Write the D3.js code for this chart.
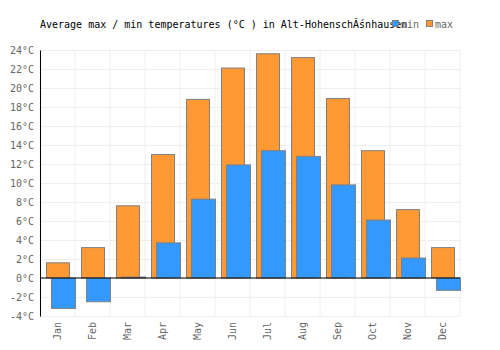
<!DOCTYPE html>
<html>
<head>
<meta charset="utf-8">
<script src="https://cdn.jsdelivr.net/npm/d3@7"></script>
<style>
  body { margin: 0; background: #fff; }
  text { font-family: "DejaVu Sans Mono", monospace; }
  .grid line { stroke: #eee; }
  .grid .domain { display: none; }
</style>
</head>
<body>
<svg id="chart"></svg>
<script>
// data
const months = ['Jan', 'Feb', 'Mar', 'Apr', 'May', 'Jun', 'Jul', 'Aug', 'Sep', 'Oct', 'Nov', 'Dec'];
const maxTemps = [1.6, 3.2, 7.6, 13.0, 18.8, 22.1, 23.6, 23.2, 18.9, 13.4, 7.2, 3.2];
const minTemps = [-3.2, -2.5, 0.1, 3.7, 8.3, 11.9, 13.4, 12.8, 9.8, 6.1, 2.1, -1.3];
const yTicks = [-4, -2, 0, 2, 4, 6, 8, 10, 12, 14, 16, 18, 20, 22, 24];
const titleText = 'Average max / min temperatures (°C ) in Alt-HohenschĂśnhausen';

const config = {
  containerWidth: 500,
  containerHeight: 350,
  margin: {top: 50, right: 40, bottom: 34, left: 40}
};

const width = config.containerWidth - config.margin.left - config.margin.right;
const height = config.containerHeight - config.margin.top - config.margin.bottom;

const svg = d3.select('#chart')
    .attr('width', config.containerWidth)
    .attr('height', config.containerHeight);

const chart = svg.append('g')
    .attr('transform', `translate(${config.margin.left},${config.margin.top})`);

// scales
const xScale = d3.scaleBand()
    .domain(months)
    .range([0, width]);

const yScale = d3.scaleLinear()
    .domain([-4, 24])
    .range([height, 0]);

// gridlines
chart.append('g')
    .attr('class', 'grid')
    .call(d3.axisLeft(yScale).tickValues(yTicks).tickSize(-width).tickFormat(''));

chart.append('g')
    .attr('class', 'grid')
    .selectAll('line')
    .data(d3.range(months.length + 1))
    .join('line')
      .attr('x1', i => i * xScale.bandwidth())
      .attr('x2', i => i * xScale.bandwidth())
      .attr('y1', 0)
      .attr('y2', height);

// bars
const bw = xScale.bandwidth();
chart.selectAll('.bar-max')
  .data(maxTemps)
  .join('rect')
    .attr('class', 'bar-max')
    .attr('x', (d, i) => xScale(months[i]) + 6.5)
    .attr('width', 23)
    .attr('y', d => yScale(Math.max(d, 0)))
    .attr('height', d => Math.abs(yScale(d) - yScale(0)))
    .attr('fill', '#ff9933')
    .attr('stroke', '#808080');

chart.selectAll('.bar-min')
  .data(minTemps)
  .join('rect')
    .attr('class', 'bar-min')
    .attr('x', (d, i) => xScale(months[i]) + 11.5)
    .attr('width', 24)
    .attr('y', d => yScale(Math.max(d, 0)))
    .attr('height', d => Math.abs(yScale(d) - yScale(0)))
    .attr('fill', '#3399ff')
    .attr('stroke', '#808080');

// axes
const yAxisG = chart.append('g')
    .call(d3.axisLeft(yScale).tickValues(yTicks).tickSize(0).tickPadding(6).tickFormat(d => d + '°C'));
yAxisG.select('.domain').attr('stroke', '#000');
yAxisG.selectAll('text').attr('fill', '#666').style('font-size', '10px');

chart.append('line')
    .attr('x1', 0).attr('x2', width)
    .attr('y1', yScale(0)).attr('y2', yScale(0))
    .attr('stroke', '#000');

chart.append('g')
    .attr('transform', `translate(0,${height})`)
    .selectAll('text')
    .data(months)
    .join('text')
      .attr('transform', d => `translate(${xScale(d) + bw / 2 + 3},6) rotate(-90)`)
      .attr('text-anchor', 'end')
      .attr('fill', '#666')
      .style('font-size', '10px')
      .text(d => d);

// title
svg.append('text')
    .attr('x', 40)
    .attr('y', 28)
    .style('font-size', '10px')
    .attr('fill', '#000')
    .text(titleText);

// legend
const legend = svg.append('g').attr('transform', 'translate(392,20)');
const legendItems = [{label: 'min', color: '#3399ff'}, {label: 'max', color: '#ff9933'}];
legend.selectAll('g')
  .data(legendItems)
  .join('g')
    .attr('transform', (d, i) => `translate(${i * 34},0)`)
    .each(function(d) {
      const g = d3.select(this);
      g.append('rect').attr('x', 0.5).attr('y', 0.5).attr('width', 6).attr('height', 6)
        .attr('fill', d.color).attr('stroke', '#808080');
      g.append('text').attr('x', 9).attr('y', 8)
        .attr('fill', '#666').style('font-size', '10px').text(d.label);
    });
</script>
</body>
</html>
